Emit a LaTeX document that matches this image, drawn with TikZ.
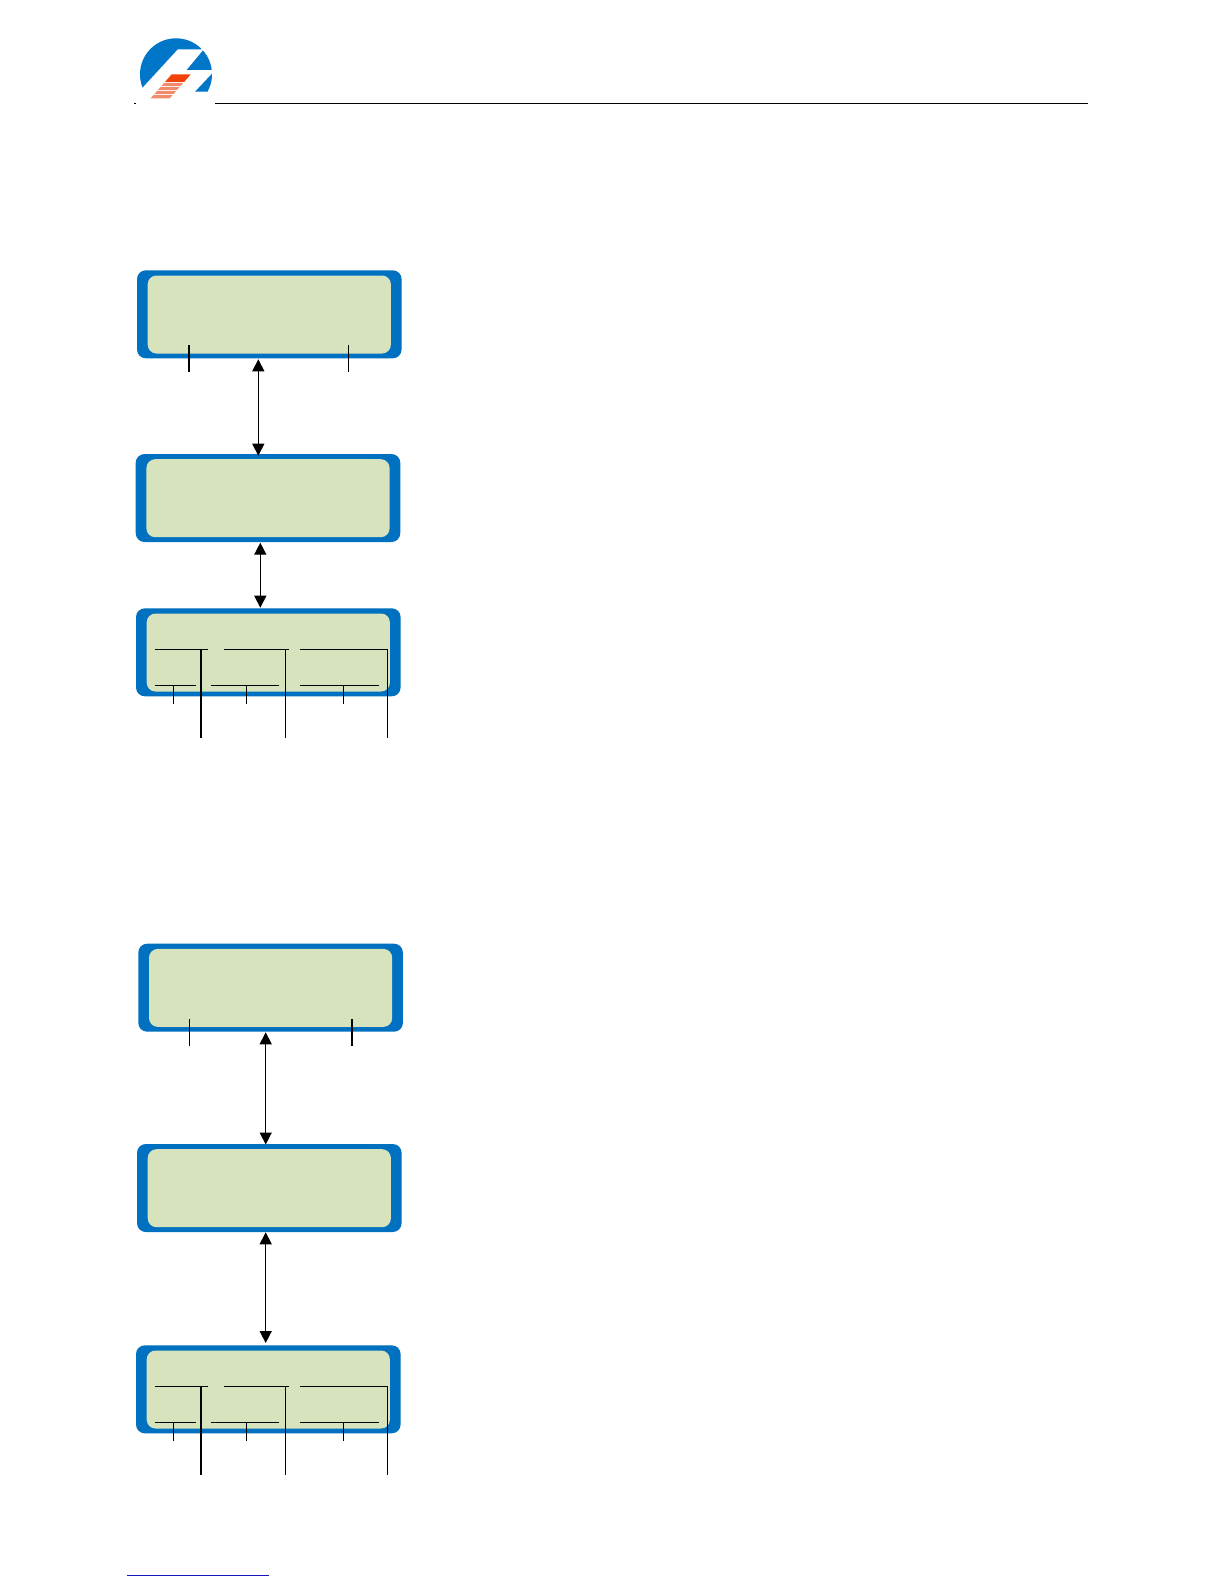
\documentclass[tikz,border=0pt]{standalone}
\usetikzlibrary{arrows.meta}
\definecolor{lcdblue}{RGB}{0,112,192}
\definecolor{lcdgreen}{RGB}{214,227,188}
\definecolor{logoblue}{RGB}{0,118,200}
\definecolor{logored}{RGB}{240,66,10}
\definecolor{logosalmon}{RGB}{243,138,105}
\definecolor{linkblue}{RGB}{20,20,190}
\tikzset{
  lcdouter/.style={draw=none,fill=lcdblue,rounded corners=4.4pt,minimum width=132.3pt,minimum height=44pt,inner sep=0pt,outer sep=0pt,anchor=north west},
  lcdinner/.style={draw=none,fill=lcdgreen,rounded corners=4.4pt,minimum width=121.6pt,minimum height=39pt,inner sep=0pt,outer sep=0pt,anchor=north west},
  thinlead/.style={draw=black,line width=.5pt},
  thicklead/.style={draw=black,line width=1pt},
  updown/.style={draw=black,line width=.7pt,{Triangle[length=6pt,width=6pt]}-{Triangle[length=6pt,width=6pt]}},
  rule/.style={draw=black,line width=.5pt},
  linkrule/.style={draw=linkblue,line width=.5pt}
}
% #1 name, #2 left, #3 top of the outer frame
\newcommand{\lcdpanel}[3]{%
  \node[lcdouter] (#1) at (#2,#3) {};
  \node[lcdinner] (#1in) at (#2+10.7,#3+5.2) {};
}
% #1 prefix, #2 y of upper rules, #3 y of lower rules
\newcommand{\fieldleads}[3]{%
  \coordinate (#1a1) at (155,#2);   \coordinate (#1a2) at (208.3,#2);
  \coordinate (#1a3) at (201,#2);   \coordinate (#1a4) at (201,#2+88.4);
  \coordinate (#1b1) at (224.3,#2); \coordinate (#1b2) at (285.7,#2);
  \coordinate (#1b3) at (289,#2);   \coordinate (#1b4) at (285.7,#2+88.4);
  \coordinate (#1c1) at (300,#2);   \coordinate (#1c2) at (387.7,#2);
  \coordinate (#1c4) at (387.7,#2+88.4);
  \coordinate (#1d1) at (155,#3);   \coordinate (#1d2) at (196,#3);
  \coordinate (#1d3) at (173.3,#3); \coordinate (#1d4) at (173.3,#3+18.4);
  \coordinate (#1e1) at (211,#3);   \coordinate (#1e2) at (279,#3);
  \coordinate (#1e3) at (246.3,#3); \coordinate (#1e4) at (246.3,#3+18.4);
  \coordinate (#1f1) at (300,#3);   \coordinate (#1f2) at (379,#3);
  \coordinate (#1f3) at (343.3,#3); \coordinate (#1f4) at (343.3,#3+18.4);
  \draw[thinlead] (#1a1) -- (#1a2);
  \draw[thicklead] (#1a3) -- (#1a4);
  \draw[thinlead] (#1b1) -- (#1b3);
  \draw[thinlead] (#1b2) -- (#1b4);
  \draw[thinlead] (#1c1) -- (#1c2) -- (#1c4);
  \draw[thinlead] (#1d1) -- (#1d2);
  \draw[thinlead] (#1d3) -- (#1d4);
  \draw[thinlead] (#1e1) -- (#1e2);
  \draw[thinlead] (#1e3) -- (#1e4);
  \draw[thinlead] (#1f1) -- (#1f2);
  \draw[thinlead] (#1f3) -- (#1f4);
}
\begin{document}
\begin{tikzpicture}[x=.5pt,y=-.5pt]
\useasboundingbox (0,0) rectangle (1224,1584);
\fill[white] (0,0) rectangle (1224,1584);

% logo
\begin{scope}
  \clip (176,74.3) circle[radius=36];
  \fill[logoblue] (177.7,49.3) -- (201,49.3) -- (201,30) -- (130,30) -- (130,101.2) -- cycle;
  \fill[logoblue] (203.3,50) -- (186.7,70) -- (216,70) -- (216,50) -- cycle;
  \fill[logoblue] (214,71.6) -- (195,91.7) -- (216,91.7) -- cycle;
\end{scope}
\fill[logored] (171.7,74.3) -- (190.7,74.3) -- (184.2,82) -- (165,82) -- cycle;
\foreach \ya/\yb in {83/86,87/90,91/94,95/98.3}{
  \fill[logosalmon] (171.7-0.875*\ya+65,\ya) -- (190.7-0.875*\ya+65,\ya) -- (190.7-0.875*\yb+65,\yb) -- (171.7-0.875*\yb+65,\yb) -- cycle;
}

% header and footer rules
\coordinate (headL) at (215,103.6);
\coordinate (headR) at (1088,103.6);
\coordinate (dashL) at (134,103.6);
\coordinate (dashR) at (136,103.6);
\coordinate (footL) at (127,1575.3);
\coordinate (footR) at (269,1575.3);
\draw[rule] (headL) -- (headR);
\draw[rule] (dashL) -- (dashR);
\draw[linkrule] (footL) -- (footR);

% panels
\lcdpanel{pA}{137}{270.3}
\lcdpanel{pB}{135.7}{454}
\lcdpanel{pC}{136}{608.3}
\lcdpanel{pD}{138.3}{943.7}
\lcdpanel{pE}{137}{1144}
\lcdpanel{pF}{136}{1345.3}

% leaders of the first panel
\coordinate (a1t) at (188.7,345);   \coordinate (a1b) at (188.7,371.7);
\coordinate (a2t) at (348.3,345);   \coordinate (a2b) at (348.3,371.7);
\draw[thicklead] (a1t) -- (a1b);
\draw[thinlead] (a2t) -- (a2b);

% leaders of the fourth panel
\coordinate (d1t) at (189.3,1019);  \coordinate (d1b) at (189.3,1045.7);
\coordinate (d2t) at (352,1019);    \coordinate (d2b) at (352,1045.7);
\draw[thinlead] (d1t) -- (d1b);
\draw[thicklead] (d2t) -- (d2b);

% field leaders
\fieldleads{c}{649.3}{685.3}
\fieldleads{f}{1386.3}{1422.3}

% arrows between panels
\coordinate (ab1) at (258.3,359.3);  \coordinate (ab2) at (258.3,455.7);
\coordinate (bc1) at (260.3,542.7);  \coordinate (bc2) at (260.3,607.7);
\coordinate (de1) at (265.7,1032.3); \coordinate (de2) at (265.7,1144.5);
\coordinate (ef1) at (265.7,1232.3); \coordinate (ef2) at (265.7,1343);
\draw[updown] (ab1) -- (ab2);
\draw[updown] (bc1) -- (bc2);
\draw[updown] (de1) -- (de2);
\draw[updown] (ef1) -- (ef2);
\end{tikzpicture}
\end{document}
